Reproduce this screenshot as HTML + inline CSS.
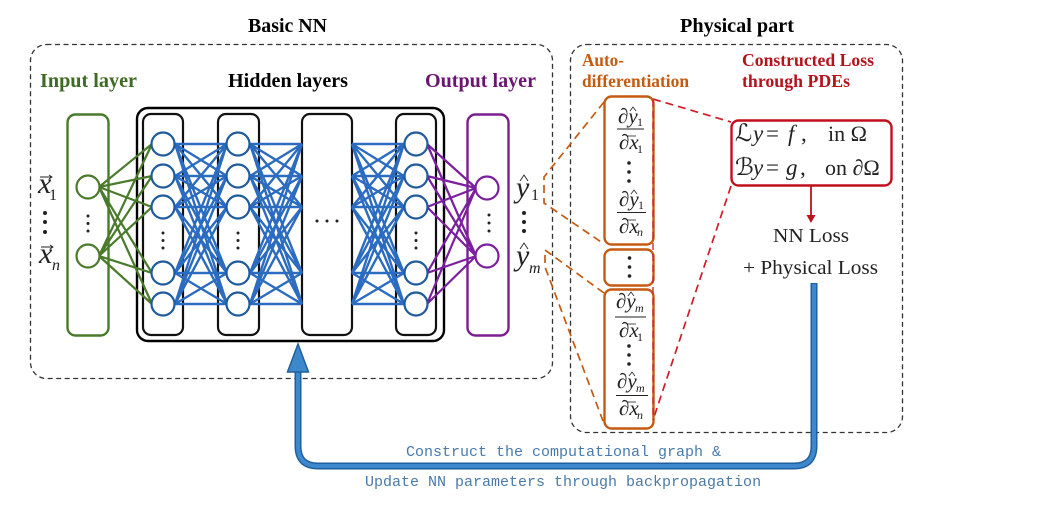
<!DOCTYPE html>
<html><head><meta charset="utf-8"><style>
html,body{margin:0;padding:0;background:#fff}
svg{display:block;filter:blur(.35px)}
text{font-family:"Liberation Serif","DejaVu Serif",serif}
.m{font-family:"Liberation Mono",monospace;font-size:15px;fill:#4a7aa8}
</style></head><body>
<svg xmlns="http://www.w3.org/2000/svg" width="1047" height="507" viewBox="0 0 1047 507">
<defs>
<path id="bp" fill="none" d="M0 144L52 144M0 144L52 176M0 144L52 207M0 144L52 273M0 144L52 304M0 176L52 144M0 176L52 176M0 176L52 207M0 176L52 273M0 176L52 304M0 207L52 144M0 207L52 176M0 207L52 207M0 207L52 273M0 207L52 304M0 273L52 144M0 273L52 176M0 273L52 207M0 273L52 273M0 273L52 304M0 304L52 144M0 304L52 176M0 304L52 207M0 304L52 273M0 304L52 304"/>
<g id="col" fill="#fff" stroke="#1f5a9c" stroke-width="2.2"><circle cx="0" cy="144" r="11.500"/><circle cx="0" cy="176" r="11.500"/><circle cx="0" cy="207" r="11.500"/><circle cx="0" cy="273" r="11.500"/><circle cx="0" cy="304" r="11.500"/></g>
<g id="vd" fill="#222"><circle cx="0" cy="233" r="1.500"/><circle cx="0" cy="240.500" r="1.500"/><circle cx="0" cy="248" r="1.500"/></g>
</defs>
<rect width="1047" height="507" fill="#fff"/>

<!-- dashed panels -->
<g fill="none" stroke="#333" stroke-width="1.3" stroke-dasharray="5 3.5">
<rect x="30.500" y="44.500" width="522" height="334" rx="16"/>
<rect x="570.500" y="44.500" width="332" height="388" rx="16"/>
</g>

<!-- titles -->
<g font-size="20" font-weight="bold">
<text x="248" y="32" textLength="79" lengthAdjust="spacingAndGlyphs">Basic NN</text>
<text x="680" y="32" textLength="114" lengthAdjust="spacingAndGlyphs">Physical part</text>
<text x="228" y="87" textLength="120" lengthAdjust="spacingAndGlyphs">Hidden layers</text>
<text x="40" y="87" textLength="97" lengthAdjust="spacingAndGlyphs" fill="#3f6a24">Input layer</text>
<text x="425" y="87" textLength="111" lengthAdjust="spacingAndGlyphs" fill="#6a1670">Output layer</text>
</g>
<g font-weight="bold" font-size="18">
<text x="582" y="66" fill="#c55a11" textLength="42" lengthAdjust="spacingAndGlyphs">Auto-</text>
<text x="582" y="87" fill="#c55a11" textLength="107" lengthAdjust="spacingAndGlyphs">differentiation</text>
<text x="742" y="66" fill="#b5121b" textLength="132" lengthAdjust="spacingAndGlyphs">Constructed Loss</text>
<text x="742" y="87" fill="#b5121b" textLength="108" lengthAdjust="spacingAndGlyphs">through PDEs</text>
</g>

<!-- network boxes -->
<rect x="137" y="108" width="307" height="233" rx="11" fill="#fff" stroke="#000" stroke-width="2.4"/>
<g fill="#fff" stroke="#111" stroke-width="2.2">
<rect x="143" y="114" width="40" height="221" rx="8"/>
<rect x="218" y="114" width="41" height="221" rx="8"/>
<rect x="302" y="114" width="50" height="221" rx="8"/>
<rect x="396" y="114" width="40" height="221" rx="8"/>
</g>
<rect x="67.500" y="114.500" width="41" height="221" rx="8" fill="none" stroke="#4a7a2c" stroke-width="2.4"/>
<rect x="467.500" y="114.500" width="41" height="221" rx="8" fill="none" stroke="#7b1f8f" stroke-width="2.4"/>

<!-- connections -->
<g stroke="#2b6cc0" stroke-width="2.4">
<use href="#bp" x="175" y="0"/>
<use href="#bp" x="250" y="0"/>
<use href="#bp" x="352" y="0"/>
</g>
<path fill="none" stroke="#4a7a2c" stroke-width="2.2" d="M99 187L152 144M99 187L152 176M99 187L152 207M99 187L152 273M99 187L152 304M99 256L152 144M99 256L152 176M99 256L152 207M99 256L152 273M99 256L152 304"/>
<path fill="none" stroke="#7b1f9f" stroke-width="2.2" d="M427 144L476 188M427 176L476 188M427 207L476 188M427 273L476 188M427 304L476 188M427 144L476 256M427 176L476 256M427 207L476 256M427 273L476 256M427 304L476 256"/>

<!-- nodes -->
<use href="#col" x="163" y="0"/><use href="#col" x="238" y="0"/><use href="#col" x="416" y="0"/>
<g fill="#fff" stroke="#4a7a2c" stroke-width="2.2"><circle cx="88" cy="187" r="11.500"/><circle cx="88" cy="256" r="11.500"/></g>
<g fill="#fff" stroke="#7b1f9f" stroke-width="2.2"><circle cx="487" cy="188" r="11.500"/><circle cx="487" cy="256" r="11.500"/></g>
<use href="#vd" x="163" y="0"/><use href="#vd" x="238" y="0"/><use href="#vd" x="416" y="0"/>
<g fill="#222"><circle cx="88" cy="216" r="1.500"/><circle cx="88" cy="223.500" r="1.500"/><circle cx="88" cy="231" r="1.500"/><circle cx="489" cy="215" r="1.500"/><circle cx="489" cy="223" r="1.500"/><circle cx="489" cy="231" r="1.500"/><circle cx="317" cy="221" r="1.500"/><circle cx="327" cy="221" r="1.500"/><circle cx="337" cy="221" r="1.500"/></g>

<!-- input / output labels -->
<g fill="#222">
<text x="38" y="193" font-size="30" font-style="italic">x</text><text x="49" y="200" font-size="16">1</text>
<text x="39" y="263" font-size="30" font-style="italic">x</text><text x="52" y="270" font-size="16" font-style="italic">n</text>
<circle cx="45" cy="213" r="2"/><circle cx="45" cy="222" r="2"/><circle cx="45" cy="232" r="2"/>
<text x="516" y="197" font-size="30" font-style="italic">y</text><text x="531" y="200" font-size="16">1</text>
<text x="516" y="265" font-size="30" font-style="italic">y</text><text x="529" y="273" font-size="16" font-style="italic">m</text>
<circle cx="524" cy="213" r="2"/><circle cx="524" cy="222" r="2"/><circle cx="524" cy="231" r="2"/>
</g>
<g fill="none" stroke="#222" stroke-width=".9">
<path d="M40 177H52M49 175L52 177L49 179"/><path d="M41 247H53M50 245L53 247L50 249"/>
<path d="M520 181L524 175L528 181"/><path d="M520 249L524 243L528 249"/>
</g>

<!-- dashed connectors -->
<g fill="none" stroke="#c55a11" stroke-width="1.700" stroke-dasharray="8 5">
<path d="M604 102L544 177V203L604 244"/>
<path d="M604 293L545 250V267L603 421"/>
</g>
<g fill="none" stroke="#d01c2a" stroke-width="1.700" stroke-dasharray="8 5">
<path d="M653 99L731 122"/>
<path d="M731 186L653 420"/>
</g>

<!-- orange boxes -->
<g fill="#fff" stroke="#c55a11" stroke-width="2.4">
<rect x="604.500" y="96.500" width="49" height="148" rx="7"/>
<rect x="604.500" y="249.500" width="49" height="36" rx="7"/>
<rect x="604.500" y="289.500" width="49" height="139" rx="7"/>
</g>
<path d="M653 100V420" stroke="#d01c2a" stroke-width="1.300" stroke-dasharray="7 4" fill="none"/>

<!-- fractions -->
<g fill="#222">
<text x="618" y="123" font-size="21" font-style="italic">∂y</text><text x="637" y="126" font-size="12">1</text>
<text x="619" y="149" font-size="21" font-style="italic">∂x</text><text x="637" y="153" font-size="12">1</text>
<rect x="617" y="128.500" width="27" height="1"/>
<text x="619" y="206" font-size="21" font-style="italic">∂y</text><text x="638" y="209" font-size="12">1</text>
<text x="619" y="233" font-size="21" font-style="italic">∂x</text><text x="637" y="236" font-size="12" font-style="italic">n</text>
<rect x="617" y="212" width="29" height="1"/>
<text x="616" y="308" font-size="21" font-style="italic">∂y</text><text x="635" y="312" font-size="12" font-style="italic">m</text>
<text x="619" y="337" font-size="21" font-style="italic">∂x</text><text x="637" y="341" font-size="12">1</text>
<rect x="615" y="316.500" width="31" height="1"/>
<text x="617" y="388" font-size="21" font-style="italic">∂y</text><text x="636" y="392" font-size="12" font-style="italic">m</text>
<text x="619" y="415" font-size="21" font-style="italic">∂x</text><text x="637" y="419" font-size="12" font-style="italic">n</text>
<rect x="616" y="395" width="32" height="1"/>
<circle cx="629" cy="163" r="1.800"/><circle cx="629" cy="172" r="1.800"/><circle cx="629" cy="181" r="1.800"/>
<circle cx="629.500" cy="258" r="1.800"/><circle cx="629.500" cy="267" r="1.800"/><circle cx="629.500" cy="276" r="1.800"/>
<circle cx="629" cy="346" r="1.800"/><circle cx="629" cy="355" r="1.800"/><circle cx="629" cy="364" r="1.800"/>
</g>
<g fill="none" stroke="#222" stroke-width=".8">
<path d="M630 111L633 107L636 111"/><path d="M631 194L634 190L637 194"/><path d="M628 296L631 292L634 296"/><path d="M629 376L632 372L635 376"/>
<path d="M627 136H636"/><path d="M627 220H636"/><path d="M627 324H636"/><path d="M627 402H636"/>
</g>

<!-- equations -->
<rect x="731.500" y="120.500" width="160" height="65" rx="7" fill="#fff" stroke="#c00f1e" stroke-width="2.4"/>
<g fill="#222" font-size="23">
<text x="735" y="141" style="font-family:'DejaVu Serif','DejaVu Sans',serif" font-style="italic" font-size="24">ℒ</text>
<text x="753" y="141" font-style="italic">y</text><text x="766" y="141">=</text><text x="788" y="141" font-style="italic">f</text><text x="801" y="141">,</text>
<text x="828" y="141" font-size="22">in Ω</text>
<text x="735" y="175" style="font-family:'DejaVu Serif','DejaVu Sans',serif" font-style="italic" font-size="24">ℬ</text>
<text x="753" y="175" font-style="italic">y</text><text x="766" y="175">=</text><text x="786" y="175" font-style="italic">g</text><text x="800" y="175">,</text>
<text x="825" y="175" font-size="22">on ∂Ω</text>
</g>
<path d="M811 185V216" stroke="#c00f1e" stroke-width="1.800" fill="none"/>
<path d="M806.500 215L815.500 215L811 223Z" fill="#c00f1e"/>
<text x="773" y="242" font-size="20" fill="#222" textLength="76" lengthAdjust="spacingAndGlyphs">NN Loss</text>
<text x="743" y="274" font-size="20" fill="#222" textLength="135" lengthAdjust="spacingAndGlyphs">+ Physical Loss</text>

<!-- feedback arrow -->
<path d="M814 283V446Q814 466 794 466H318Q298 466 298 446V372" fill="none" stroke="#1f5f9f" stroke-width="7"/>
<path d="M814 284V446Q814 466 794 466H318Q298 466 298 446V372" fill="none" stroke="#3d87cc" stroke-width="4"/>
<path d="M298 344L308.500 372H287.500Z" fill="#3d87cc" stroke="#1f5f9f" stroke-width="1.500"/>

<text class="m" x="406" y="456">Construct the computational graph &amp;</text>
<text class="m" x="365" y="486">Update NN parameters through backpropagation</text>
</svg>
</body></html>
